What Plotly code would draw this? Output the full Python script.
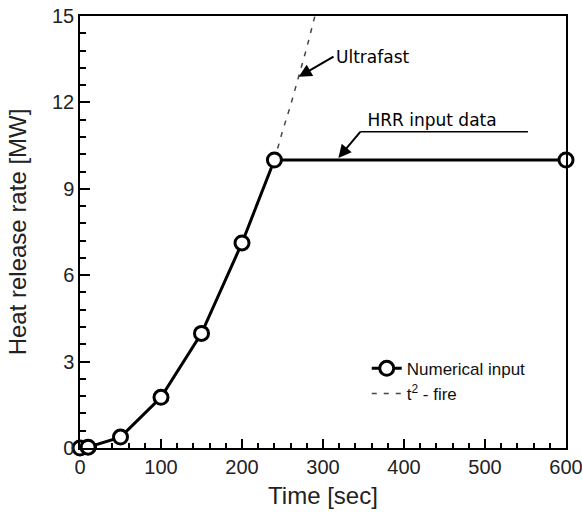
import plotly.graph_objects as go

# Numerical input (HRR input data)
time_input = [0, 10, 50, 100, 150, 200, 240, 600]
hrr_input = [0.0, 0.03, 0.38, 1.76, 3.98, 7.12, 10.0, 10.0]

# t^2 ultrafast fire (visible part beyond the plateau)
time_t2 = [240, 250, 260, 270, 280, 290]
hrr_t2 = [10.0, 11.0, 11.9, 12.9, 13.9, 15.0]

x_ticks = [0, 100, 200, 300, 400, 500, 600]
y_ticks = [0, 3, 6, 9, 12, 15]

# annotation anchors (data coordinates)
ultra_head = (270, 12.89)
ultra_tail = (313, 13.59)
hrr_head = (319, 10.07)
hrr_tail = (346, 10.98)
hrr_line_end = (553, 10.98)

fig = go.Figure()

fig.add_trace(go.Scatter(
    x=time_t2, y=hrr_t2, mode="lines", name="t<sup>2</sup> - fire",
    line=dict(color="#444444", width=1.5, dash="5px,7px"),
))

fig.add_trace(go.Scatter(
    x=time_input, y=hrr_input, mode="lines+markers", name="Numerical input",
    line=dict(color="black", width=3),
    marker=dict(symbol="circle", size=14, color="white",
                line=dict(color="black", width=3)),
    cliponaxis=False,
))

tickfont = dict(family="Liberation Sans, Arial", size=20, color="#222222")
titlefont = dict(family="Liberation Sans, Arial", size=24, color="#222222")

fig.update_layout(
    width=582, height=512,
    margin=dict(l=80, r=16, t=16, b=64, autoexpand=False),
    paper_bgcolor="white", plot_bgcolor="white",
    showlegend=True,
    legend=dict(x=0.59, y=0.225, xanchor="left", yanchor="top",
                bgcolor="rgba(0,0,0,0)", borderwidth=0,
                traceorder="reversed",
                font=dict(family="Liberation Sans, Arial", size=17, color="#111111"),
                tracegroupgap=0),
    xaxis=dict(
        range=[0, 600], tickvals=x_ticks, ticktext=[str(v) for v in x_ticks],
        showgrid=False, zeroline=False, automargin=False,
        ticklabeloverflow="allow",
        showline=True, linecolor="black", linewidth=1.5, mirror=True,
        ticks="inside", ticklen=9, tickwidth=1.5, tickcolor="black",
        tickfont=tickfont,
        minor=dict(dtick=20, ticks="inside", ticklen=5, tickwidth=1.5,
                   tickcolor="black", showgrid=False),
        title=dict(text="Time [sec]", font=titlefont, standoff=10),
    ),
    yaxis=dict(
        range=[0, 15], tickvals=y_ticks, ticktext=[str(v) for v in y_ticks],
        showgrid=False, zeroline=False, automargin=False,
        ticklabeloverflow="allow",
        showline=True, linecolor="black", linewidth=1.5, mirror=True,
        ticks="inside", ticklen=10, tickwidth=1.5, tickcolor="black",
        tickfont=tickfont,
        minor=dict(dtick=0.6, ticks="inside", ticklen=6, tickwidth=1.5,
                   tickcolor="black", showgrid=False),
        title=dict(text="Heat release rate [MW]", font=titlefont, standoff=19),
    ),
)

annfont = dict(family="DejaVu Sans", size=17, color="black")

fig.add_annotation(x=ultra_head[0], y=ultra_head[1], ax=ultra_tail[0], ay=ultra_tail[1],
                   xref="x", yref="y", axref="x", ayref="y", text="Ultrafast",
                   xanchor="left", yanchor="middle", font=annfont,
                   showarrow=True, arrowhead=2, arrowsize=1.3, arrowwidth=2,
                   arrowcolor="black", borderpad=1)
fig.add_annotation(x=hrr_head[0], y=hrr_head[1], ax=hrr_tail[0], ay=hrr_tail[1],
                   xref="x", yref="y", axref="x", ayref="y",
                   text="&nbsp;HRR input data",
                   xanchor="left", yanchor="bottom", font=annfont,
                   showarrow=True, arrowhead=2, arrowsize=1.3, arrowwidth=2,
                   arrowcolor="black", borderpad=1)
fig.add_shape(type="line", xref="x", yref="y",
              x0=hrr_tail[0], y0=hrr_tail[1], x1=hrr_line_end[0], y1=hrr_line_end[1],
              line=dict(color="black", width=1.5))

fig.write_html("out.html",
               config={"displayModeBar": False},
               post_script="document.body.style.margin='0px';document.body.style.overflow='hidden';")
